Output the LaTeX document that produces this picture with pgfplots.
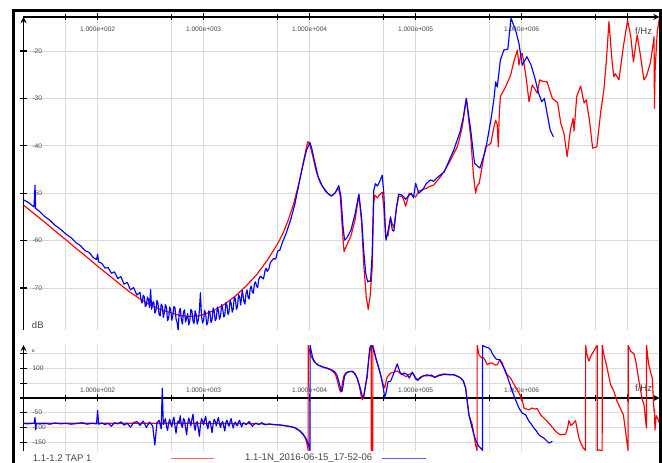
\documentclass[border=0pt]{standalone}
\usepackage{fontspec}
\setmainfont{Liberation Sans}
\usepackage{pgfplots}
\pgfplotsset{compat=1.18}
\definecolor{gridgray}{RGB}{219,219,219}
\definecolor{lblgray}{RGB}{70,70,70}
\pgfplotsset{
  common/.style={
    scale only axis, width=636pt, xmin=1.301, xmax=7.301,
    xtick={2,3,4,5,6,7},
    minor xtick={1.699,2.699,3.699,4.699,5.699,6.699},
    xticklabels={1.000e+002,1.000e+003,1.000e+004,1.000e+005,1.000e+006,{}},
    grid=both,
    grid style={gridgray, line width=0.9pt},
    minor grid style={gridgray, line width=0.9pt},
    major tick length=7pt, minor tick length=6pt, tick align=center,
    tick style={black, line width=1.1pt},
    axis line style={-, line width=1.7pt},
    x axis line style={-}, y axis line style={-},
    tick label style={font=\fontsize{6.6}{7}\selectfont, text=lblgray},
  },
  redline/.style={red, line width=1.15pt, line join=round},
  blueline/.style={blue, line width=1.15pt, line join=round},
}
\begin{document}
\begin{tikzpicture}
\useasboundingbox (0pt,0pt) rectangle (662pt,463pt);

% ---------------- magnitude ----------------
\begin{axis}[common, at={(23.5pt,133pt)}, anchor=south west, height=313pt,
  ymin=-78.86, ymax=-12.83,
  axis x line=top, axis y line=left,
  ytick={-70,-60,-50,-40,-30,-20},
  yticklabels={-70,-60,-50,-40,-30,-20},
  xticklabel style={anchor=north, yshift=-10pt},
  yticklabel style={anchor=west, xshift=9pt},
]
\addplot[redline] coordinates {
(1.301,-52.5) (1.4,-54.3) (1.5,-56.1) (1.6,-58.0) (1.7,-59.8) (1.8,-61.7) (1.9,-63.5) (2.0,-65.4) (2.1,-67.2) (2.2,-69.0) (2.3,-70.8) (2.4,-72.3) (2.5,-73.6) (2.6,-74.6) (2.7,-75.3) (2.78,-75.8) (2.85,-76.0) (2.95,-75.9) (3.0,-75.6) (3.1,-74.7) (3.2,-73.4) (3.3,-71.7) (3.4,-69.6) (3.5,-67.2) (3.6,-64.2) (3.7,-60.6) (3.75,-58.4) (3.8,-55.6) (3.85,-52.2) (3.9,-47.8) (3.95,-42.5) (3.97,-40.3) (3.984,-39.1) (4.0,-39.6) (4.03,-42.2) (4.06,-45.2) (4.1,-47.8) (4.15,-49.6) (4.2,-50.6) (4.24,-50.0) (4.27,-48.8) (4.29,-50.7) (4.31,-58.0) (4.325,-62.3) (4.35,-61.0) (4.39,-59.0) (4.43,-55.5) (4.465,-50.4) (4.49,-56.0) (4.51,-64.8) (4.535,-72.0) (4.553,-74.5) (4.57,-72.0) (4.59,-66.0) (4.605,-52.0) (4.615,-50.4) (4.64,-51.0) (4.66,-50.3) (4.685,-49.8) (4.70,-53.0) (4.717,-59.2) (4.74,-59.0) (4.764,-55.3) (4.78,-56.5) (4.795,-57.2) (4.82,-53.0) (4.84,-50.7) (4.87,-50.6) (4.89,-51.5) (4.906,-52.8) (4.94,-50.0) (4.97,-50.4) (5.0,-50.8) (5.03,-49.6) (5.07,-49.2) (5.10,-49.0) (5.13,-48.6) (5.17,-48.3) (5.236,-46.5) (5.28,-45.0) (5.33,-43.0) (5.393,-40.2) (5.42,-38.0) (5.44,-36.0) (5.46,-33.0) (5.48,-30.0) (5.50,-34.5) (5.52,-38.1) (5.545,-46.0) (5.566,-50.0) (5.58,-48.5) (5.60,-47.9) (5.63,-44.0) (5.66,-40.2) (5.69,-39.8) (5.71,-39.5) (5.735,-36.5) (5.755,-34.6) (5.77,-35.5) (5.78,-40.2) (5.79,-33.0) (5.80,-29.6) (5.85,-27.5) (5.896,-25.1) (5.93,-22.0) (5.96,-19.8) (5.975,-23.0) (5.99,-21.0) (6.006,-20.5) (6.025,-23.0) (6.045,-26.0) (6.07,-30.7) (6.10,-27.2) (6.125,-28.0) (6.147,-28.9) (6.17,-26.1) (6.20,-26.4) (6.24,-26.5) (6.29,-30.0) (6.34,-30.9) (6.37,-35.3) (6.40,-37.4) (6.43,-42.3) (6.46,-36.7) (6.486,-34.2) (6.495,-36.9) (6.52,-29.6) (6.557,-27.4) (6.59,-31.0) (6.61,-30.3) (6.64,-34.6) (6.67,-40.5) (6.71,-40.2) (6.745,-33.1) (6.776,-28.2) (6.80,-22.0) (6.824,-13.8) (6.855,-22.6) (6.87,-25.4) (6.885,-24.8) (6.918,-26.1) (6.96,-19.1) (7.0,-13.5) (7.03,-17.0) (7.055,-22.3) (7.09,-16.6) (7.123,-21.2) (7.154,-26.1) (7.18,-25.2) (7.217,-22.3) (7.25,-17.0) (7.253,-32.1) (7.26,-24.0) (7.27,-19.8) (7.28,-15.9) (7.301,-13.0)
};
\addplot[blueline] coordinates {
(1.301,-51.4) (1.35,-52.0) (1.40,-52.9) (1.41,-48.3) (1.415,-53.2) (1.45,-53.8) (1.50,-54.9) (1.55,-55.7) (1.60,-56.8) (1.65,-57.6) (1.70,-58.6) (1.75,-59.4) (1.80,-60.5) (1.84,-61.1) (1.88,-62.1) (1.92,-62.5) (1.96,-63.6) (1.99,-64.0) (2.00,-62.9) (2.01,-64.5) (2.04,-64.8) (2.07,-65.8) (2.10,-65.7) (2.13,-66.9) (2.16,-66.6) (2.19,-68.0) (2.22,-67.6) (2.25,-69.2) (2.28,-68.8) (2.31,-70.4) (2.34,-69.9) (2.37,-71.5) (2.40,-70.9) (2.41,-72.6) (2.42,-73.2) (2.43,-71.5) (2.44,-71.8) (2.45,-73.9) (2.46,-73.6) (2.47,-71.9) (2.48,-72.4) (2.49,-74.1) (2.50,-70.3) (2.51,-74.5) (2.52,-73.1) (2.53,-72.9) (2.54,-75.3) (2.55,-74.8) (2.56,-72.6) (2.57,-73.3) (2.58,-75.6) (2.59,-75.9) (2.60,-73.4) (2.61,-73.8) (2.62,-76.2) (2.63,-75.2) (2.64,-73.5) (2.65,-74.1) (2.66,-76.9) (2.67,-76.4) (2.68,-74.0) (2.69,-74.6) (2.70,-76.8) (2.71,-75.8) (2.72,-73.9) (2.73,-74.2) (2.74,-76.5) (2.75,-77.3) (2.76,-78.9) (2.77,-75.0) (2.78,-74.3) (2.79,-76.6) (2.80,-77.6) (2.81,-75.1) (2.82,-74.6) (2.83,-77.2) (2.84,-76.3) (2.85,-75.4) (2.86,-77.8) (2.87,-76.9) (2.88,-74.5) (2.89,-74.9) (2.90,-77.0) (2.91,-77.5) (2.92,-74.8) (2.93,-75.6) (2.94,-77.6) (2.95,-76.8) (2.96,-74.9) (2.97,-71.0) (2.98,-75.8) (2.99,-77.4) (3.00,-76.8) (3.01,-74.7) (3.02,-75.6) (3.03,-77.8) (3.04,-77.2) (3.05,-74.8) (3.06,-75.3) (3.07,-77.3) (3.08,-76.7) (3.09,-74.2) (3.10,-74.9) (3.11,-76.9) (3.12,-76.4) (3.13,-74.0) (3.14,-74.8) (3.15,-76.6) (3.16,-75.9) (3.17,-73.5) (3.18,-74.3) (3.19,-76.1) (3.20,-75.8) (3.21,-73.1) (3.22,-73.6) (3.23,-75.6) (3.24,-75.0) (3.25,-72.6) (3.26,-73.2) (3.27,-75.1) (3.28,-74.4) (3.29,-71.9) (3.30,-72.3) (3.31,-74.5) (3.32,-73.9) (3.33,-71.4) (3.34,-71.9) (3.35,-73.6) (3.365,-70.4) (3.38,-72.8) (3.39,-73.4) (3.40,-71.2) (3.41,-70.4) (3.42,-72.0) (3.43,-72.3) (3.44,-70.1) (3.45,-69.6) (3.46,-70.9) (3.47,-71.1) (3.48,-69.0) (3.49,-68.7) (3.50,-69.6) (3.51,-69.9) (3.52,-68.2) (3.535,-67.5) (3.55,-67.8) (3.565,-68.1) (3.58,-66.3) (3.59,-65.8) (3.60,-66.5) (3.615,-66.0) (3.63,-64.6) (3.645,-64.2) (3.66,-63.8) (3.68,-63.9) (3.70,-62.2) (3.72,-62.0) (3.74,-60.6) (3.78,-58.4) (3.82,-55.7) (3.86,-52.4) (3.90,-48.0) (3.94,-43.8) (3.97,-41.0) (4.003,-39.3) (4.02,-40.5) (4.05,-43.6) (4.08,-46.5) (4.12,-48.5) (4.17,-50.0) (4.21,-50.6) (4.245,-49.8) (4.275,-48.4) (4.295,-50.6) (4.315,-57.0) (4.33,-59.9) (4.35,-59.5) (4.39,-57.8) (4.43,-54.3) (4.465,-50.2) (4.49,-55.0) (4.51,-62.0) (4.53,-67.0) (4.548,-68.7) (4.56,-68.5) (4.575,-68.6) (4.59,-63.0) (4.605,-49.5) (4.62,-48.0) (4.64,-48.5) (4.66,-47.6) (4.685,-46.2) (4.70,-50.0) (4.72,-59.9) (4.74,-58.0) (4.764,-55.0) (4.78,-57.8) (4.795,-58.0) (4.82,-53.0) (4.84,-50.2) (4.87,-50.4) (4.89,-50.8) (4.906,-51.3) (4.93,-50.6) (4.96,-50.0) (4.98,-51.0) (5.0,-47.9) (5.03,-50.0) (5.07,-49.2) (5.10,-48.0) (5.14,-47.2) (5.17,-47.5) (5.20,-46.8) (5.27,-45.5) (5.36,-40.9) (5.42,-37.0) (5.45,-34.0) (5.478,-30.0) (5.52,-36.7) (5.556,-43.7) (5.58,-44.2) (5.607,-44.7) (5.66,-40.9) (5.71,-34.6) (5.74,-30.0) (5.755,-26.5) (5.77,-27.6) (5.80,-21.9) (5.833,-19.8) (5.87,-19.6) (5.90,-13.1) (5.943,-15.6) (5.975,-18.4) (6.006,-23.0) (6.05,-21.2) (6.09,-23.0) (6.13,-26.1) (6.16,-28.9) (6.19,-30.7) (6.215,-30.0) (6.24,-33.1) (6.27,-36.7) (6.30,-38.1)
};
\node[anchor=west, font=\fontsize{9.5}{11}\selectfont, text=lblgray, inner sep=0pt] at (axis description cs:0.013,0.016) {dB};
\node[font=\fontsize{9.5}{11}\selectfont, text=lblgray, inner sep=0pt] at (axis description cs:0.975,0.955) {f/Hz};
\end{axis}

% ---------------- phase ----------------
\begin{axis}[common, at={(23.5pt,12pt)}, anchor=south west, height=106pt,
  ymin=-180, ymax=180,
  axis x line=middle, axis y line=left,
  ytick={-150,-100,-50,0,50,100,150},
  yticklabels={-150,-100,-50,{},{},100,{}},
  xticklabel style={anchor=south, yshift=5pt},
  yticklabel style={anchor=west, xshift=9pt},
]
\addplot[redline] coordinates {
(1.301,-86) (2.0,-86) (2.5,-86) (3.0,-86) (3.4,-87) (3.55,-88) (3.65,-90) (3.73,-92) (3.80,-96) (3.852,-100) (3.89,-108) (3.915,-115) (3.94,-125) (3.962,-138) (3.975,-155) (3.984,-172) (3.986,-179) (3.987,179) (3.995,165) (4.01,145) (4.04,125) (4.07,114) (4.104,108) (4.15,102) (4.198,96) (4.225,88) (4.245,79) (4.265,55) (4.28,32) (4.292,20) (4.305,40) (4.32,72) (4.34,85) (4.37,90) (4.403,91) (4.425,82) (4.45,68) (4.47,40) (4.485,10) (4.497,-6) (4.51,5) (4.525,38) (4.544,70) (4.555,125) (4.569,170) (4.581,179) (4.582,-179) (4.59,-177) (4.596,-179) (4.597,179) (4.605,165) (4.623,136) (4.645,110) (4.67,79) (4.69,50) (4.708,34) (4.73,70) (4.764,85) (4.79,87) (4.827,92) (4.86,82) (4.88,80) (4.91,72) (4.937,80) (4.97,85) (5.0,70) (5.016,62) (5.05,72) (5.08,76) (5.11,79) (5.15,74) (5.18,71) (5.22,78) (5.267,82) (5.31,80) (5.36,79) (5.40,73) (5.425,68) (5.45,58) (5.472,34) (5.49,-20) (5.503,-57) (5.535,-91) (5.55,-125) (5.566,-159) (5.578,-176) (5.580,-179) (5.581,179) (5.597,147) (5.62,138) (5.644,136) (5.676,113) (5.70,118) (5.724,119) (5.75,112) (5.771,113) (5.795,130) (5.818,119) (5.849,85) (5.896,68) (5.93,45) (5.959,28) (5.991,6) (5.997,-6) (6.005,-4) (6.022,-34) (6.05,-38) (6.069,-40) (6.10,-34) (6.125,-38) (6.147,-36) (6.179,-57) (6.21,-68) (6.242,-79) (6.28,-95) (6.321,-113) (6.35,-122) (6.368,-125) (6.39,-124) (6.415,-123) (6.435,-100) (6.446,-77) (6.465,-93) (6.478,-90) (6.509,-77) (6.541,-136) (6.56,-155) (6.582,-170) (6.603,-178) (6.604,179) (6.615,150) (6.635,125) (6.65,140) (6.67,153) (6.698,170) (6.713,179) (6.714,-179) (6.73,-176) (6.76,-179) (6.761,179) (6.776,147) (6.80,113) (6.84,45) (6.87,23) (6.90,-11) (6.93,-34) (6.96,-57) (6.98,-110) (6.997,-160) (7.005,-179) (7.006,179) (7.028,159) (7.06,150) (7.08,120) (7.107,57) (7.139,-6) (7.155,-23) (7.165,-60) (7.178,-102) (7.179,179) (7.19,140) (7.20,113) (7.215,90) (7.233,68) (7.245,-17) (7.25,-45) (7.254,-40) (7.258,-109) (7.27,-60) (7.285,-70) (7.301,-85)
};
\addplot[blueline] coordinates {
(1.301,-86) (1.33,-88) (1.36,-87) (1.40,-86) (1.41,-66) (1.415,-108) (1.42,-87) (1.45,-88) (1.50,-86) (1.55,-89) (1.60,-85) (1.65,-88) (1.70,-86) (1.75,-89) (1.80,-87) (1.85,-84) (1.90,-89) (1.95,-86) (1.99,-88) (2.00,-42) (2.01,-89) (2.04,-85) (2.07,-90) (2.10,-86) (2.13,-96) (2.16,-84) (2.19,-88) (2.22,-81) (2.25,-92) (2.28,-86) (2.31,-99) (2.34,-84) (2.37,-80) (2.40,-93) (2.43,-78) (2.46,-100) (2.49,-82) (2.52,-95) (2.54,-160) (2.56,-84) (2.58,-76) (2.60,-105) (2.61,33) (2.62,-90) (2.63,-80) (2.64,-70) (2.65,-96) (2.66,-110) (2.67,-85) (2.68,-72) (2.69,-88) (2.70,-98) (2.71,-76) (2.72,-65) (2.73,-95) (2.74,-120) (2.75,-90) (2.76,-78) (2.77,-84) (2.78,-60) (2.79,-92) (2.80,-100) (2.81,-70) (2.82,-75) (2.83,-102) (2.84,-125) (2.85,-88) (2.86,-68) (2.87,-80) (2.88,-95) (2.89,-72) (2.90,-55) (2.91,-90) (2.92,-110) (2.93,-86) (2.94,-80) (2.95,-104) (2.96,-130) (2.97,-92) (2.98,-70) (2.99,-78) (3.00,-92) (3.01,-74) (3.02,-62) (3.03,-90) (3.04,-105) (3.05,-82) (3.06,-78) (3.07,-96) (3.08,-118) (3.09,-88) (3.10,-72) (3.11,-80) (3.12,-95) (3.13,-78) (3.14,-66) (3.15,-88) (3.16,-100) (3.17,-86) (3.18,-80) (3.19,-96) (3.20,-112) (3.21,-84) (3.22,-75) (3.23,-88) (3.24,-96) (3.25,-80) (3.26,-70) (3.27,-90) (3.28,-102) (3.29,-86) (3.30,-82) (3.31,-92) (3.32,-94) (3.33,-80) (3.34,-76) (3.35,-90) (3.36,-98) (3.37,-86) (3.38,-84) (3.40,-91) (3.43,-80) (3.46,-96) (3.49,-85) (3.52,-90) (3.55,-84) (3.58,-91) (3.62,-88) (3.66,-90) (3.70,-91) (3.75,-93) (3.82,-97) (3.87,-102) (3.91,-112) (3.94,-123) (3.97,-140) (3.99,-158) (4.0,-170) (4.004,-179) (4.005,179) (4.015,160) (4.03,135) (4.05,122) (4.08,112) (4.12,106) (4.17,101) (4.21,95) (4.24,88) (4.26,76) (4.28,50) (4.295,25) (4.305,22) (4.315,40) (4.33,75) (4.35,86) (4.38,90) (4.41,89) (4.43,82) (4.45,66) (4.48,30) (4.50,2) (4.51,4) (4.525,35) (4.54,72) (4.555,120) (4.57,170) (4.58,178) (4.595,175) (4.61,158) (4.625,136) (4.645,112) (4.67,79) (4.69,45) (4.708,4) (4.72,15) (4.74,55) (4.764,57) (4.79,80) (4.827,116) (4.85,90) (4.87,79) (4.89,85) (4.92,80) (4.94,68) (4.97,88) (5.0,65) (5.02,60) (5.05,70) (5.08,76) (5.11,75) (5.15,78) (5.18,70) (5.22,76) (5.27,80) (5.31,79) (5.36,79) (5.40,73) (5.425,68) (5.45,58) (5.472,34) (5.49,-20) (5.503,-57) (5.525,-90) (5.55,-125) (5.575,-150) (5.595,-163) (5.613,-170) (5.629,-176) (5.631,-179) (5.632,179) (5.644,176) (5.67,172) (5.69,170) (5.708,164) (5.725,150) (5.739,142) (5.76,132) (5.795,130) (5.818,113) (5.849,91) (5.88,57) (5.912,23) (5.943,-6) (5.975,-34) (6.006,-51) (6.038,-57) (6.069,-79) (6.09,-88) (6.116,-102) (6.14,-112) (6.163,-125) (6.19,-132) (6.21,-136) (6.235,-145) (6.258,-153) (6.275,-150) (6.29,-147)
};
\node[anchor=base west, font=\fontsize{9.5}{11}\selectfont, text=lblgray, inner sep=0pt] at (axis description cs:0.012,0.896) {°};
\node[font=\fontsize{9.5}{11}\selectfont, text=lblgray, inner sep=0pt] at (axis description cs:0.975,0.594) {f/Hz};
\end{axis}

% ---------------- frame and legend ----------------
\draw[line width=2.7pt] (13.3pt,-5pt) -- (13.3pt,452.3pt) -- (660.5pt,452.3pt) -- (660.5pt,-5pt);
\node[anchor=west, font=\fontsize{9.6}{11}\selectfont, text=lblgray, inner sep=0pt] at (32.7pt,4.4pt) {1.1-1.2 TAP 1};
\draw[red!60, line width=1.3pt] (170.7pt,4.3pt) -- (214pt,4.3pt);
\node[anchor=west, font=\fontsize{9.6}{11}\selectfont, text=lblgray, inner sep=0pt] at (245pt,4.4pt) {1.1-1N\_2016-06-15\_17-52-06};
\draw[blue!60, line width=1.3pt] (382.3pt,4.3pt) -- (425.7pt,4.3pt);
\end{tikzpicture}
\end{document}
